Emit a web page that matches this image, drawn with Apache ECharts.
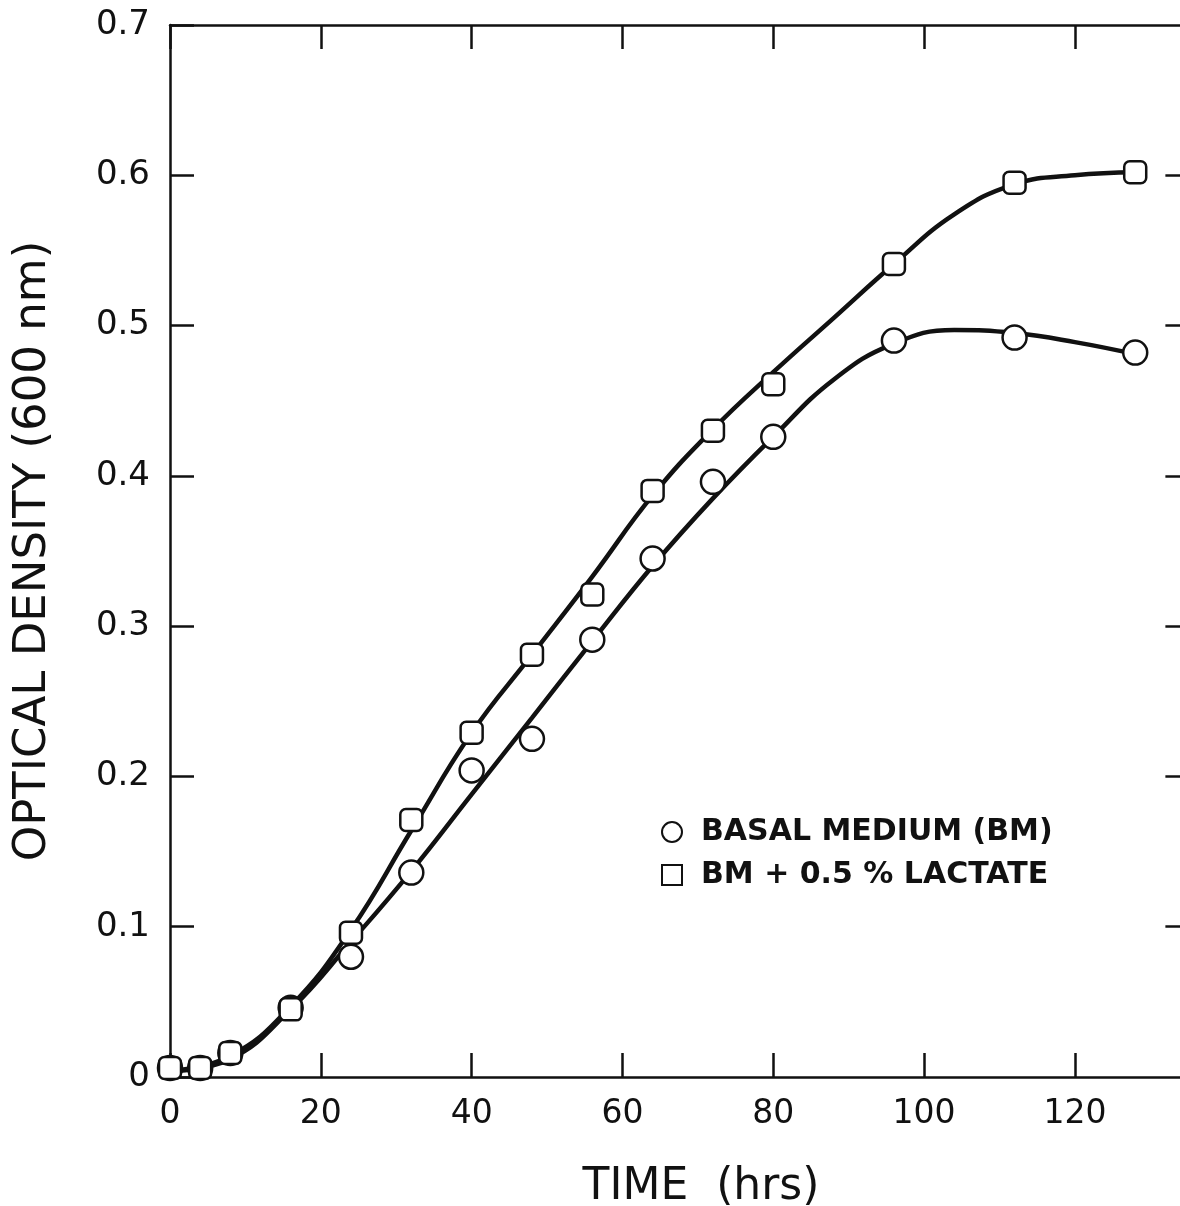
<!DOCTYPE html>
<html>
<head>
<meta charset="utf-8">
<script src="https://cdn.jsdelivr.net/npm/echarts@6/dist/echarts.min.js"></script>
<style>
html, body { margin: 0; padding: 0; background: #fff; overflow: hidden; }
#main { width: 1180px; height: 1206px; }
</style>
</head>
<body>
<div id="main"></div>
<script>
// measured points (hrs, OD 600 nm)
var hours = [0, 4, 8, 16, 24, 32, 40, 48, 56, 64, 72, 80, 96, 112, 128];
var basal = [0.006, 0.006, 0.016, 0.046, 0.080, 0.136, 0.204, 0.225, 0.291, 0.345, 0.396, 0.426, 0.490, 0.492, 0.482];
var lactate = [0.006, 0.006, 0.016, 0.045, 0.096, 0.171, 0.229, 0.281, 0.321, 0.390, 0.430, 0.461, 0.541, 0.595, 0.602];

// fitted curves drawn by hand in the figure, read every 8 hrs
var curveHours = [0, 8, 16, 24, 32, 40, 48, 56, 64, 72, 80, 88, 96, 104, 112, 120, 128];
var basalCurve = [0.004, 0.012, 0.045, 0.090, 0.137, 0.188, 0.239, 0.290, 0.340, 0.385, 0.426, 0.464, 0.488, 0.497, 0.495, 0.489, 0.481];
var lactateCurve = [0.004, 0.014, 0.047, 0.098, 0.164, 0.229, 0.281, 0.333, 0.387, 0.431, 0.469, 0.505, 0.541, 0.574, 0.594, 0.600, 0.602];

var xTicks = [0, 20, 40, 60, 80, 100, 120];
var yTicks = [0.1, 0.2, 0.3, 0.4, 0.5, 0.6];
var legendNames = ['BASAL MEDIUM (BM)', 'BM + 0.5 % LACTATE'];

function pairs(xs, ys) {
	var out = [];
	for (var i = 0; i < xs.length; i++) out.push([xs[i], ys[i]]);
	return out;
}

var font = 'DejaVu Sans';
var ink = '#111';
var chart = echarts.init(document.getElementById('main'), null, { renderer: 'canvas' });

var axisLine = { show: true, onZero: false, lineStyle: { color: ink, width: 2.5 } };
var tickStyle = { show: true, inside: true, length: 24, lineStyle: { color: ink, width: 2.5 } };

// short inward ticks on the right edge (frame edge itself is cut off in the figure)
var rightTicks = [];
for (var i = 0; i < yTicks.length; i++) {
	rightTicks.push([{ coord: [132, yTicks[i]] }, { coord: [135, yTicks[i]] }]);
}

var option = {
	backgroundColor: '#fff',
	animation: false,
	grid: { left: 170, top: 25, right: -8, bottom: 129, show: false, containLabel: false, outerBoundsMode: 'none' },
	legend: {
		orient: 'vertical',
		left: 656,
		top: 812,
		itemGap: 13,
		itemWidth: 20,
		itemHeight: 20,
		data: [
			{ name: legendNames[0], icon: 'circle' },
			{ name: legendNames[1], icon: 'rect' }
		],
		textStyle: { fontFamily: font, fontSize: 30, color: ink, fontWeight: 'bold', padding: [0, 0, 0, 14] }
	},
	xAxis: [{
		type: 'value',
		min: 0,
		max: 135,
		interval: 20,
		position: 'bottom',
		splitLine: { show: false },
		axisLine: axisLine,
		axisTick: tickStyle,
		axisLabel: {
			showMaxLabel: false,
			margin: 21,
			fontFamily: font, fontSize: 33, color: ink,
			formatter: function (v) { return xTicks.indexOf(v) >= 0 ? String(v) : ''; }
		},
		name: 'TIME  (hrs)',
		nameLocation: 'middle',
		nameGap: 89,
		nameTextStyle: { fontFamily: font, fontSize: 44, color: ink, padding: [0, 0, 0, 44] }
	}, {
		type: 'value',
		min: 0,
		max: 135,
		interval: 20,
		position: 'top',
		splitLine: { show: false },
		axisLine: axisLine,
		axisTick: tickStyle,
		axisLabel: { show: false }
	}],
	yAxis: [{
		type: 'value',
		min: 0,
		max: 0.7,
		interval: 0.1,
		position: 'left',
		splitLine: { show: false },
		axisLine: axisLine,
		axisTick: tickStyle,
		axisLabel: {
			margin: 20,
			fontFamily: font, fontSize: 34, color: ink,
			formatter: function (v) { return v === 0 ? '0' : v.toFixed(1); }
		},
		name: 'OPTICAL DENSITY (600 nm)',
		nameLocation: 'middle',
		nameRotate: 90,
		nameGap: 114,
		nameTextStyle: { fontFamily: font, fontSize: 45, color: ink }
	}],
	series: [
		{
			type: 'line',
			smooth: 0.45,
			showSymbol: false,
			data: pairs(curveHours, basalCurve),
			lineStyle: { color: ink, width: 4.5 },
			markLine: {
				silent: true,
				symbol: 'none',
				label: { show: false },
				lineStyle: { color: ink, width: 2.5, type: 'solid' },
				data: rightTicks
			},
			z: 2
		},
		{
			type: 'line',
			smooth: 0.45,
			showSymbol: false,
			data: pairs(curveHours, lactateCurve),
			lineStyle: { color: ink, width: 4.5 },
			z: 2
		},
		{
			name: legendNames[0],
			type: 'scatter',
			symbol: 'circle',
			symbolSize: 24,
			data: pairs(hours, basal),
			itemStyle: { color: '#fff', borderColor: ink, borderWidth: 2.5, opacity: 1 },
			z: 3
		},
		{
			name: legendNames[1],
			type: 'scatter',
			symbol: 'roundRect',
			symbolSize: 22,
			data: pairs(hours, lactate),
			itemStyle: { color: '#fff', borderColor: ink, borderWidth: 2.5, opacity: 1 },
			z: 4
		}
	]
};

chart.setOption(option);
</script>
</body>
</html>
